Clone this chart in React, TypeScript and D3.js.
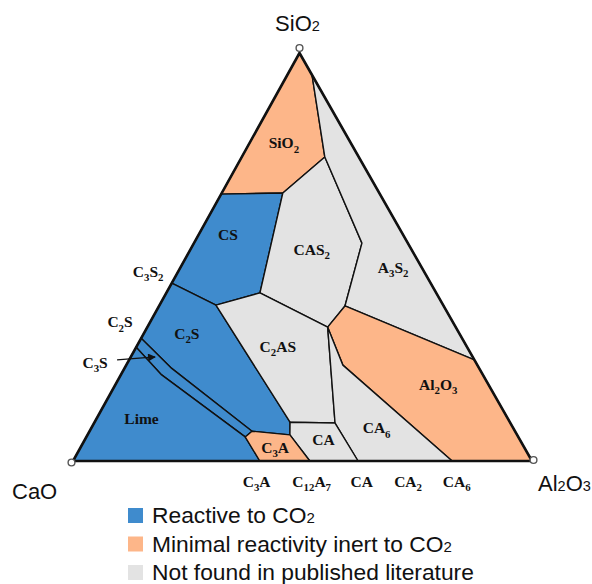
import React from "react";
import * as d3 from "d3";

// Compositions are weight fractions in percent: [CaO, Al2O3, SiO2]
type Comp = [number, number, number];

const WIDTH = 592;
const HEIGHT = 584;

const CORNER_NAMES = ["CaO", "Al2O3", "SiO2"];

// Pure oxide corners
const CAO: Comp = [100, 0, 0];
const AL2O3: Comp = [0, 100, 0];
const SIO2: Comp = [0, 0, 100];

// Boundary junctions between the primary phase fields
const J1: Comp = [0, 5.4, 94.6];
const J2: Comp = [7.4, 18.1, 74.5];
const J3: Comp = [21.0, 13.3, 65.7];
const J4: Comp = [34.6, 0, 65.4];
const J5: Comp = [56.4, 0, 43.6];
const J6: Comp = [49.5, 12.3, 38.2];
const J7: Comp = [38.4, 20.4, 41.2];
const J8: Comp = [10.0, 36.6, 53.4];
const J9: Comp = [21.5, 40.5, 38.0];
const J10: Comp = [0, 75.2, 24.8];
const J11: Comp = [27.9, 39.3, 32.8];
const J12: Comp = [29.3, 47.2, 23.5];
const J13: Comp = [17.4, 82.6, 0];
const J14: Comp = [37.9, 62.1, 0];
const J15: Comp = [38.2, 52.5, 9.3];
const J16: Comp = [47.9, 42.6, 9.5];
const J17: Comp = [49.5, 44.1, 6.4];
const J18: Comp = [48.4, 51.6, 0];
const J19: Comp = [59.3, 40.7, 0];
const J20: Comp = [59.5, 34.6, 5.9];
const J21: Comp = [57.3, 35.4, 7.3];
// Upper and lower limits of the narrow C3S field
const U0: Comp = [69.9, 0, 30.1];
const U1: Comp = [67.0, 10.3, 22.7];
const D0: Comp = [72.1, 0, 27.9];
const D1: Comp = [70.0, 8.9, 21.1];

// Primary phase fields
const FIELD_NAMES = ["SiO2", "CS", "CAS2", "A3S2", "C2S", "C3S", "Lime", "C2AS", "Al2O3", "CA6", "CA", "C3A"];
const FIELD_CLASS = ["inert", "reactive", "unknown", "unknown", "reactive", "reactive", "reactive", "unknown", "inert", "unknown", "unknown", "inert"];
const FIELD_OUTLINES: Comp[][] = [
  [SIO2, J1, J2, J3, J4],
  [J4, J3, J7, J6, J5],
  [J3, J2, J8, J9, J11, J7],
  [J1, J10, J9, J8, J2],
  [J5, J6, J16, J17, J21, U1, U0],
  [U0, U1, J21, J20, D1, D0],
  [D0, D1, J20, J19, CAO],
  [J6, J7, J11, J15, J16],
  [J9, J10, AL2O3, J13, J12, J11],
  [J11, J12, J13, J14, J15],
  [J16, J15, J14, J18, J17],
  [J20, J21, J17, J18, J19],
];
// Where each field's name is written (composition inside the field)
const FIELD_LABEL_AT: (Comp | null)[] = [
  [14.6, 7.5, 77.9],
  [38.2, 6.4, 55.4],
  [21.8, 26.5, 51.7],
  [6.3, 46.4, 47.3],
  [59.4, 9.4, 31.2],
  null,
  [79.9, 9.9, 10.2],
  [41.2, 30.8, 28.0],
  [11.0, 70.4, 18.6],
  [29.8, 62.2, 8.0],
  [42.8, 52.0, 5.2],
  [54.3, 42.4, 3.3],
];

// Compounds marked along the CaO–Al2O3 join
const BASE_COMPOUNDS = ["C3A", "C12A7", "CA", "CA2", "CA6"];
const BASE_AL2O3 = [40.0, 52.0, 62.9, 73.0, 83.6];

// Compounds marked along the CaO–SiO2 join
const SIDE_COMPOUNDS = ["C3S2", "C2S"];
const SIDE_SIO2 = [46.4, 34.0];
const C3S_POINTER: Comp = [69.2, 5.3, 25.5];

const LEGEND_LABELS = ["Reactive to CO2", "Minimal reactivity inert to CO2", "Not found in published literature"];
const LEGEND_CLASSES = ["reactive", "inert", "unknown"];

const COLORS: Record<string, string> = {
  reactive: "#3f8bcd",
  inert: "#fdb689",
  unknown: "#e3e3e3",
};

// Triangle corners on the page
const LEFT = { x: 73, y: 461 };
const RIGHT = { x: 532, y: 461 };
const TOP = { x: 299.5, y: 53 };

const alongBase = d3.scaleLinear().domain([0, 100]).range([0, RIGHT.x - LEFT.x]);
const upX = d3.scaleLinear().domain([0, 100]).range([0, TOP.x - LEFT.x]);
const upY = d3.scaleLinear().domain([0, 100]).range([LEFT.y, TOP.y]);

function project(c: Comp): [number, number] {
  const total = c[0] + c[1] + c[2];
  const al = (c[1] / total) * 100;
  const si = (c[2] / total) * 100;
  return [LEFT.x + alongBase(al) + upX(si), upY(si)];
}

const line = d3.line<Comp>().x((d) => project(d)[0]).y((d) => project(d)[1]).curve(d3.curveLinearClosed);

type FormulaProps = {
  text: string;
  x: number;
  y: number;
  size: number;
  serif?: boolean;
  anchor?: "start" | "middle" | "end";
};

// Chemical formula: digit runs become smaller subscripts
function Formula({ text, x, y, size, serif, anchor = "middle" }: FormulaProps) {
  const parts = text.match(/\d+|\D+/g) || [];
  const subSize = serif ? size * 0.7 : size * 0.66;
  const shift = serif ? size * 0.28 : 0;
  let lowered = false;
  return (
    <text
      x={x}
      y={y}
      textAnchor={anchor}
      fontFamily={serif ? "'Liberation Serif', 'Times New Roman', serif" : "'Liberation Sans', Arial, sans-serif"}
      fontWeight={serif ? 700 : 400}
      fontSize={size}
      fill="#111"
    >
      {parts.map((p, i) => {
        const isNum = /\d/.test(p);
        let dy = 0;
        if (isNum && !lowered) {
          dy = shift;
          lowered = true;
        } else if (!isNum && lowered) {
          dy = -shift;
          lowered = false;
        }
        return (
          <tspan key={i} dy={dy || undefined} fontSize={isNum ? subSize : size}>
            {p}
          </tspan>
        );
      })}
    </text>
  );
}

export default function App() {
  const corners = [CAO, AL2O3, SIO2].map(project);
  const [tipX, tipY] = project(C3S_POINTER);

  return (
    <svg
      width={WIDTH}
      height={HEIGHT}
      viewBox={`0 0 ${WIDTH} ${HEIGHT}`}
      style={{ position: "absolute", left: 0, top: 0, background: "#fff" }}
    >
      <defs>
        <marker id="arrowHead" viewBox="0 0 10 10" refX="9" refY="5" markerWidth="7" markerHeight="6" orient="auto">
          <path d="M0,0 L10,5 L0,10 z" fill="#111" />
        </marker>
      </defs>

      {/* phase fields */}
      <g>
        {FIELD_OUTLINES.map((outline, i) => (
          <path
            key={FIELD_NAMES[i]}
            d={line(outline) || ""}
            fill={COLORS[FIELD_CLASS[i]]}
            stroke="#111"
            strokeWidth={1.4}
            strokeLinejoin="round"
          />
        ))}
      </g>

      {/* outer triangle */}
      <path
        d={line([CAO, AL2O3, SIO2]) || ""}
        fill="none"
        stroke="#111"
        strokeWidth={2.6}
        strokeLinejoin="miter"
      />
      {corners.map(([x, y], i) => {
        const off = [
          [-1.5, 1.5],
          [1.5, -1],
          [0, -5],
        ][i];
        return <circle key={i} cx={x + off[0]} cy={y + off[1]} r={3.4} fill="#fff" stroke="#555" strokeWidth={1.4} />;
      })}

      {/* field names */}
      {FIELD_LABEL_AT.map((at, i) => {
        if (!at) return null;
        const [x, y] = project(at);
        return <Formula key={FIELD_NAMES[i]} text={FIELD_NAMES[i]} x={x} y={y + 5} size={15.5} serif />;
      })}

      {/* compounds on the CaO–Al2O3 join */}
      {BASE_COMPOUNDS.map((name, i) => {
        const [x, y] = project([100 - BASE_AL2O3[i], BASE_AL2O3[i], 0]);
        return <Formula key={name} text={name} x={x} y={y + 26} size={15.5} serif />;
      })}

      {/* compounds on the CaO–SiO2 join */}
      {SIDE_COMPOUNDS.map((name, i) => {
        const [x, y] = project([100 - SIDE_SIO2[i], 0, SIDE_SIO2[i]]);
        return <Formula key={name} text={name} x={x - 30} y={y + 5} size={15.5} serif />;
      })}
      <line
        x1={tipX - 38}
        y1={tipY + 3}
        x2={tipX}
        y2={tipY}
        stroke="#111"
        strokeWidth={1.3}
        markerEnd="url(#arrowHead)"
      />
      <Formula text="C3S" x={tipX - 60} y={tipY + 11} size={15.5} serif />

      {/* oxide corners */}
      <Formula text={CORNER_NAMES[2]} x={corners[2][0] - 2} y={31} size={22} />
      <Formula text={CORNER_NAMES[0]} x={12} y={499} size={22} anchor="start" />
      <Formula text={CORNER_NAMES[1]} x={538} y={491} size={22} anchor="start" />

      {/* legend */}
      {LEGEND_LABELS.map((label, i) => (
        <g key={label} transform={`translate(128, ${508 + i * 28.5})`}>
          <rect x={0} y={0} width={15} height={15} fill={COLORS[LEGEND_CLASSES[i]]} />
          <Formula text={label} x={24} y={15} size={22.8} anchor="start" />
        </g>
      ))}
    </svg>
  );
}
